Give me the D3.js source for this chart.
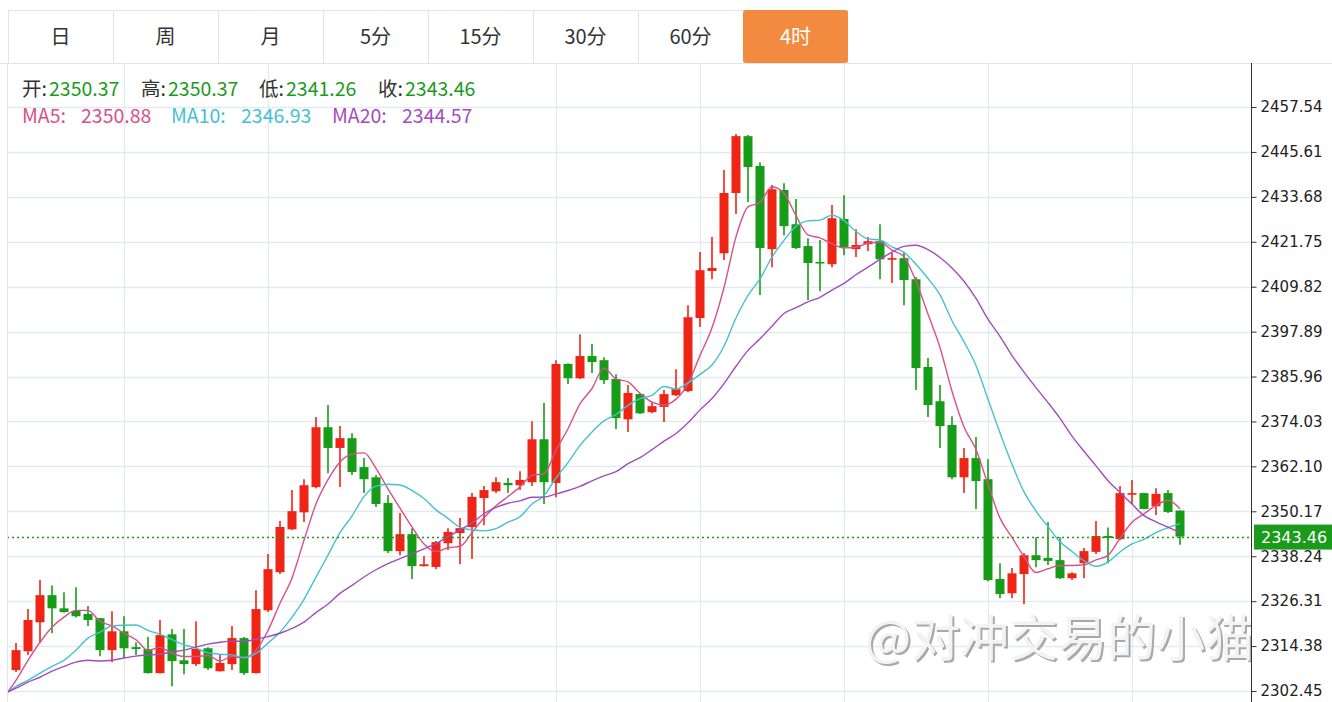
<!DOCTYPE html>
<html><head><meta charset="utf-8">
<script src="https://cdnjs.cloudflare.com/ajax/libs/d3/7.8.5/d3.min.js"></script>
<style>body{margin:0;background:#fff;overflow:hidden}svg{display:block}</style>
</head><body><svg id="c" width="1332" height="702"></svg>
<script>
const tabs = ["日","周","月","5分","15分","30分","60分","4时"];
const activeTab = "4时";

const opens  = [2308.0,2313.0,2320.7,2327.9,2324.4,2323.7,2322.9,2321.8,2313.3,2318.3,
2314.1,2313.6,2307.2,2317.5,2310.6,2309.6,2313.8,2307.7,2309.6,2316.5,
2307.2,2323.9,2334.0,2345.4,2349.9,2356.6,2372.5,2367.0,2369.6,2361.9,
2359.2,2352.4,2339.6,2344.1,2335.6,2335.4,2341.7,2344.4,2346.0,2353.7,
2355.5,2357.7,2357.1,2357.9,2369.3,2357.7,2389.3,2385.5,2391.4,2390.3,
2385.3,2374.6,2381.3,2376.5,2377.9,2381.0,2382.1,2401.5,2414.0,2418.7,
2434.7,2449.8,2441.9,2419.8,2435.5,2426.4,2420.6,2416.4,2415.8,2427.8,
2419.8,2421.1,2421.9,2417.1,2417.4,2411.8,2388.5,2379.4,2373.1,2359.2,
2364.3,2358.7,2332.2,2328.4,2333.5,2338.5,2337.8,2337.2,2332.4,2336.4,
2339.4,2343.6,2342.8,2354.8,2355.0,2351.5,2355.0,2350.37];
const highs  = [2315.2,2324.2,2331.9,2330.5,2328.7,2330.0,2325.0,2321.8,2323.6,2322.3,
2315.4,2316.8,2321.3,2318.9,2318.9,2321.0,2314.1,2312.0,2319.7,2316.8,
2329.2,2338.8,2347.6,2355.8,2358.7,2375.2,2378.4,2372.8,2370.9,2364.3,
2359.8,2354.5,2349.7,2345.7,2338.3,2342.3,2345.7,2348.4,2355.0,2356.9,
2359.2,2359.0,2360.8,2374.1,2378.9,2390.3,2389.5,2397.2,2394.6,2391.1,
2386.6,2383.7,2381.6,2379.2,2382.4,2387.9,2404.9,2419.0,2423.0,2440.8,
2450.4,2450.1,2442.9,2436.8,2437.3,2433.1,2422.7,2422.2,2431.5,2434.1,
2425.1,2423.0,2426.4,2418.8,2419.0,2412.4,2390.9,2383.7,2375.4,2367.0,
2369.9,2364.0,2336.4,2335.1,2339.1,2343.3,2347.3,2343.3,2334.0,2340.4,
2347.6,2345.9,2356.9,2358.5,2355.1,2356.3,2355.8,2350.37];
const lows   = [2307.5,2312.0,2315.2,2317.8,2323.3,2322.0,2319.7,2311.7,2310.1,2311.2,
2312.0,2307.1,2307.1,2303.7,2306.9,2309.1,2308.0,2307.6,2308.0,2306.7,
2307.1,2323.4,2333.5,2345.2,2347.3,2356.3,2360.3,2356.6,2359.8,2355.0,
2351.3,2339.1,2338.5,2332.2,2335.5,2334.8,2339.9,2336.1,2337.5,2346.5,
2355.0,2355.0,2355.8,2356.9,2352.1,2353.9,2384.0,2385.3,2386.9,2384.0,
2372.0,2371.2,2376.0,2376.2,2373.9,2380.8,2381.8,2399.1,2411.8,2416.9,
2429.1,2432.3,2407.6,2415.0,2423.5,2419.8,2406.3,2408.6,2415.0,2418.2,
2417.7,2419.3,2411.8,2410.8,2404.9,2382.4,2375.2,2367.0,2358.7,2355.0,
2350.8,2331.6,2327.1,2327.1,2325.5,2335.3,2335.9,2332.2,2331.9,2332.4,
2338.8,2336.4,2342.5,2352.1,2350.7,2349.2,2349.7,2341.26];
const closes = [2313.3,2321.3,2327.9,2324.4,2323.4,2322.3,2321.3,2313.3,2318.3,2313.8,
2313.6,2307.2,2317.3,2310.4,2309.6,2313.6,2308.5,2309.9,2316.5,2307.2,
2324.2,2334.8,2346.0,2350.2,2357.1,2372.5,2367.0,2369.6,2360.6,2358.7,
2352.1,2339.6,2344.1,2335.6,2336.1,2342.0,2344.7,2345.7,2354.0,2355.8,
2357.9,2357.1,2358.5,2369.3,2357.9,2389.3,2385.5,2391.4,2389.8,2385.0,
2374.9,2381.6,2376.2,2378.1,2381.3,2382.6,2401.7,2414.2,2414.8,2434.7,
2449.8,2441.6,2420.1,2435.7,2425.9,2420.1,2416.1,2416.1,2428.0,2420.3,
2420.9,2421.9,2417.1,2417.4,2411.6,2388.2,2378.4,2372.8,2359.2,2364.3,
2358.2,2331.9,2328.2,2333.7,2338.5,2337.2,2337.0,2332.4,2333.7,2339.6,
2343.6,2343.1,2355.0,2355.0,2350.8,2354.8,2350.0,2343.46];

const ma5Head  = [2305.3,2310.6,2315.4,2319.4];
const ma10Head = [2303.7,2305.3,2307.2,2309.0,2310.6,2313.3,2316.5,2318.1,2319.7];
const ma20Head = [2303.2,2304.8,2306.1,2307.7,2309.0,2310.1,2310.6,2310.4,2310.6,2311.2,
2311.7,2312.0,2312.2,2312.8,2313.3,2314.1,2314.9,2315.4,2315.7];
const maLeadIn = [2300.8,2301.3,2301.8]; // MA5, MA10, MA20 one bar before the first visible bar

const yTicks = [2302.45,2314.38,2326.31,2338.24,2350.17,2362.10,2374.03,2385.96,2397.89,2409.82,2421.75,2433.68,2445.61,2457.54];
const yTickLabels = ["2302.45","2314.38","2326.31","2338.24","2350.17","2362.10","2374.03","2385.96","2397.89","2409.82","2421.75","2433.68","2445.61","2457.54"];
const gridBars = [9,21,45,57,69,81,93];

const quoteLabels = ["开:","高:","低:","收:"];
const quoteValues = ["2350.37","2350.37","2341.26","2343.46"];
const maNames  = ["MA5:","MA10:","MA20:"];
const maValues = ["2350.88","2346.93","2344.57"];
const lastPrice = 2343.46;
const watermark = "@对冲交易的小猫";

const C = {
  up:"#ee2415", down:"#169c17", grid:"#e3eaef", text:"#333333",
  ma:["#d8508b","#45c1d1","#a34dbd"], orange:"#f28b3f", green:"#1a9b1b"
};
const CJK = "'Noto Sans CJK SC','Noto Sans',sans-serif";

const svg = d3.select("#c");
const plotL = 7, plotR = 1251, plotT = 63, plotB = 702;

const x = d3.scaleLinear().domain([0, 97]).range([16, 1180]);
const y = d3.scaleLinear().domain([2302.45, 2457.54]).range([691, 107]);

// ---- tabs
const tabW = 105, tabX0 = 8, tabT = 10, tabH = 53;
const tg = svg.append("g");
tg.append("rect").attr("x", tabX0 + 0.5).attr("y", tabT + 0.5).attr("width", tabW * tabs.length - 1).attr("height", tabH)
  .attr("fill", "#fff").attr("stroke", "#e4e4e4");
tabs.forEach((t, i) => {
  const x0 = tabX0 + i * tabW;
  if (i > 0) tg.append("line").attr("x1", x0 + 0.5).attr("x2", x0 + 0.5).attr("y1", tabT).attr("y2", tabT + tabH).attr("stroke", "#e4e4e4");
  if (t === activeTab) tg.append("rect").attr("x", x0).attr("y", tabT).attr("width", tabW).attr("height", tabH).attr("rx", 3).attr("fill", C.orange);
  tg.append("text").attr("x", x0 + tabW / 2).attr("y", tabT + tabH / 2 + 7).attr("text-anchor", "middle")
    .attr("font-family", CJK).attr("font-size", 20).attr("fill", t === activeTab ? "#fff" : C.text).text(t);
});

// ---- grid
const gg = svg.append("g");
gg.append("line").attr("x1", 0).attr("x2", 1332).attr("y1", plotT + 0.5).attr("y2", plotT + 0.5).attr("stroke", "#e4e4e4");
gg.append("line").attr("x1", plotL + 0.5).attr("x2", plotL + 0.5).attr("y1", plotT).attr("y2", plotB).attr("stroke", "#e4e4e4");
gg.selectAll("line.h").data(yTicks).join("line").attr("class", "h")
  .attr("x1", plotL).attr("x2", plotR).attr("y1", d => Math.round(y(d)) + 0.5).attr("y2", d => Math.round(y(d)) + 0.5)
  .attr("stroke", C.grid).attr("stroke-width", 1.3);
gg.selectAll("line.v").data(gridBars).join("line").attr("class", "v")
  .attr("x1", d => Math.round(x(d)) + 0.5).attr("x2", d => Math.round(x(d)) + 0.5).attr("y1", plotT).attr("y2", plotB)
  .attr("stroke", C.grid).attr("stroke-width", 1.3);

// ---- clip
svg.append("defs").append("clipPath").attr("id", "pc").append("rect")
  .attr("x", plotL + 1).attr("y", plotT).attr("width", plotR - plotL - 1).attr("height", plotB - plotT);

// ---- watermark
const wm = svg.append("g").attr("clip-path", "url(#pc)");
wm.append("text").attr("x", 867).attr("y", 658).attr("font-family", CJK).attr("font-size", 49)
  .attr("fill", "#a9a9a9").text(watermark);
wm.append("text").attr("x", 865).attr("y", 656).attr("font-family", CJK).attr("font-size", 49)
  .attr("fill", "#f3f3f3").text(watermark);

// ---- candles
const idx = d3.range(closes.length);
const cg = svg.append("g").attr("clip-path", "url(#pc)");
const col = i => closes[i] >= opens[i] ? C.up : C.down;
cg.selectAll("line.w").data(idx).join("line").attr("class", "w")
  .attr("x1", i => x(i)).attr("x2", i => x(i)).attr("y1", i => y(highs[i])).attr("y2", i => y(lows[i]))
  .attr("stroke", col).attr("stroke-width", 1.6);
cg.selectAll("rect.b").data(idx).join("rect").attr("class", "b")
  .attr("x", i => x(i) - 4.5).attr("width", 9)
  .attr("y", i => Math.min(y(opens[i]), y(closes[i])))
  .attr("height", i => Math.max(1.6, Math.abs(y(opens[i]) - y(closes[i]))))
  .attr("fill", col);

// ---- moving averages
function movingAvg(n, head) {
  return idx.map(i => {
    if (i < n - 1) return head[i];
    let s = 0; for (let k = i - n + 1; k <= i; k++) s += closes[k];
    return s / n;
  });
}
const maSeries = [movingAvg(5, ma5Head), movingAvg(10, ma10Head), movingAvg(20, ma20Head)];
const line = d3.line().x(d => x(d[0])).y(d => y(d[1])).curve(d3.curveMonotoneX);
maSeries.forEach((s, k) => {
  const pts = [[-1, maLeadIn[k]]].concat(s.map((v, i) => [i, v]));
  cg.append("path").attr("d", line(pts)).attr("fill", "none").attr("stroke", C.ma[k]).attr("stroke-width", 1.4);
});

// ---- last price line
cg.append("line").attr("x1", plotL).attr("x2", plotR).attr("y1", Math.round(y(lastPrice)) + 0.5).attr("y2", Math.round(y(lastPrice)) + 0.5)
  .attr("stroke", C.green).attr("stroke-width", 1.5).attr("stroke-dasharray", "2,3");

// ---- right axis
const axis = d3.axisRight(y).tickValues(yTicks).tickFormat((d, i) => yTickLabels[i]).tickSize(5).tickPadding(4);
const ag = svg.append("g").attr("transform", `translate(${plotR + 0.5},0)`).call(axis);
ag.select(".domain").remove();
ag.append("line").attr("x1", 0).attr("x2", 0).attr("y1", plotT).attr("y2", plotB).attr("stroke", "#333");
ag.selectAll(".tick line").attr("stroke", "#333");
ag.selectAll(".tick text").attr("font-family", "'DejaVu Sans',Verdana,sans-serif").attr("font-size", 15).attr("fill", "#222");

// price tag
const py = y(lastPrice);
svg.append("rect").attr("x", plotR + 3).attr("y", py - 12).attr("width", 1332 - plotR - 3).attr("height", 25).attr("fill", C.green);
svg.append("text").attr("x", plotR + 10).attr("y", py + 6.5).attr("font-family", "'DejaVu Sans',Verdana,sans-serif")
  .attr("font-size", 16).attr("fill", "#fff").text(lastPrice.toFixed(2));

// ---- legend
const lg = svg.append("g").attr("font-family", CJK).attr("font-size", 19.5);
const qx = [22, 141, 259, 378], qvx = [49, 168, 286, 405];
quoteLabels.forEach((l, i) => {
  lg.append("text").attr("x", qx[i]).attr("y", 96).attr("fill", C.text).text(l);
  lg.append("text").attr("x", qvx[i]).attr("y", 96).attr("fill", C.green).text(quoteValues[i]);
});
const mx = [22, 171, 332], mvx = [81, 241, 402];
maNames.forEach((l, i) => {
  lg.append("text").attr("x", mx[i]).attr("y", 123).attr("fill", C.ma[i]).text(l);
  lg.append("text").attr("x", mvx[i]).attr("y", 123).attr("fill", C.ma[i]).text(maValues[i]);
});
</script></body></html>
